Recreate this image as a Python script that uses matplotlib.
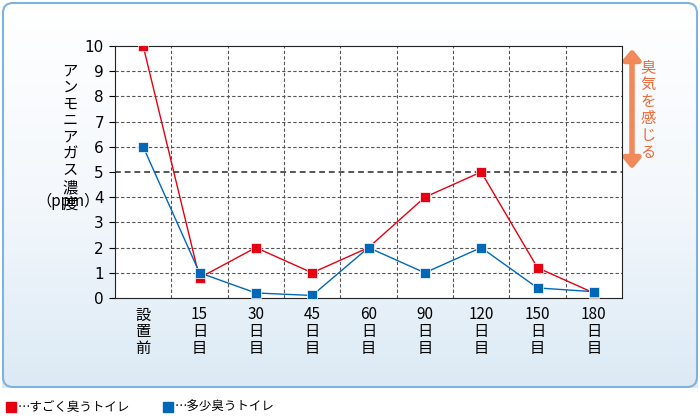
import numpy as np
import matplotlib
matplotlib.use("Agg")
import matplotlib.pyplot as plt
from matplotlib.patches import FancyBboxPatch, FancyArrowPatch

plt.rcParams["font.family"] = "Noto Sans CJK JP"

categories = ["設\n置\n前", "15\n日\n目", "30\n日\n目", "45\n日\n目", "60\n日\n目",
              "90\n日\n目", "120\n日\n目", "150\n日\n目", "180\n日\n目"]
strong_smell = [10, 0.8, 2, 1, 2, 4, 5, 1.2, 0.2]
slight_smell = [6, 1, 0.2, 0.1, 2, 1, 2, 0.4, 0.25]
y_ticks = list(range(0, 11))

RED = "#e60012"
BLUE = "#0068b7"

fig = plt.figure(figsize=(7, 4.2), dpi=100)

# background panel
bg = fig.add_axes([0, 0, 1, 1], zorder=-1)
bg.set_xlim(0, 700)
bg.set_ylim(420, 0)
bg.axis("off")
grad = np.linspace(0, 1, 256).reshape(-1, 1)
bg.imshow(grad, extent=(2, 698, 388, 2), cmap=matplotlib.colors.LinearSegmentedColormap.from_list(
    "bgc", ["#ffffff", "#f4f8fc", "#dceaf5"]), aspect="auto")
bg.add_patch(FancyBboxPatch((3, 3), 694, 384, boxstyle="round,pad=0,rounding_size=10",
                            fill=False, edgecolor="#7fb2dc", linewidth=1.5))

ax = fig.add_axes([115 / 700, 1 - 298 / 420, (622 - 115) / 700, (298 - 46) / 420])
ax.set_facecolor("white")
x = np.arange(len(categories))
ax.plot(x, strong_smell, color=RED, lw=1, marker="s", ms=7, mfc=RED, mec="white", mew=0.5, zorder=3)
ax.plot(x, slight_smell, color=BLUE, lw=1, marker="s", ms=7, mfc=BLUE, mec="white", mew=0.5, zorder=3)
ax.set_xlim(-0.5, len(categories) - 0.5)
ax.set_ylim(0, 10)
ax.set_yticks(y_ticks)
ax.set_yticklabels([str(t) for t in y_ticks], fontfamily="DejaVu Sans", fontsize=11)
ax.set_xticks(x)
ax.set_xticklabels(categories, fontsize=11, linespacing=1.0, va="top")
ax.tick_params(axis="x", length=0, pad=6)
ax.tick_params(axis="y", length=4, pad=4)
for xv in np.arange(0.5, len(categories) - 0.5):
    ax.axvline(xv, color="#555555", lw=0.8, ls=(0, (3, 2)))
for yv in y_ticks[1:-1]:
    ax.axhline(yv, color="#555555", lw=1.4 if yv == 5 else 0.8, ls=(0, (3, 2)))
for s in ax.spines.values():
    s.set_color("#222222")

fig.text(70 / 700, 1 - 62 / 420, "ア\nン\nモ\nニ\nア\nガ\nス\n濃\n度", fontsize=11,
         ha="center", va="top", linespacing=0.98)
fig.text(68 / 700, 1 - 201 / 420, "（ppm）", fontsize=11, ha="center", va="center")

bg.add_patch(FancyArrowPatch((632, 46), (632, 172), arrowstyle="<|-|>,head_length=6,head_width=5",
                             color="#f08a5a", lw=4, mutation_scale=1))
bg.text(648, 110, "臭\n気\nを\n感\nじ\nる", color="#f06a3a", fontsize=11, ha="center",
        va="center", linespacing=1.0)

bg.add_patch(plt.Rectangle((6, 402), 10, 10, color=RED))
bg.text(18, 407, "…すごく臭うトイレ", fontsize=9, va="center")
bg.add_patch(plt.Rectangle((163, 402), 10, 10, color=BLUE))
bg.text(175, 407, "…多少臭うトイレ", fontsize=9, va="center")

fig.savefig("out.png", dpi=100)
